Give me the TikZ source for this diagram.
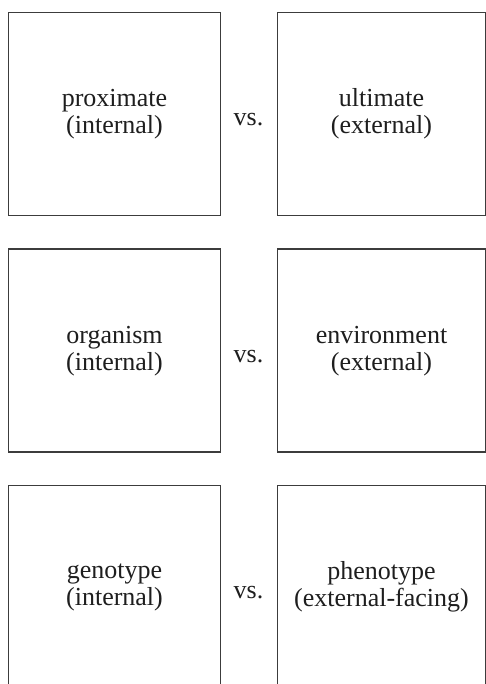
\documentclass[tikz,border=0pt]{standalone}
\usepackage{fontspec}
\setmainfont{Liberation Serif}
\definecolor{boxgray}{HTML}{3C3C3C}
\definecolor{ink}{HTML}{1E1E1E}
\begin{document}
\begin{tikzpicture}[x=1pt,y=-1pt,
  pair/.style={draw=boxgray, line width=1.5pt, minimum height=203pt,
    inner sep=0pt, align=center, text=ink,
    font=\fontsize{26}{27}\selectfont},
  leftbox/.style={pair, minimum width=212pt},
  rightbox/.style={pair, minimum width=208pt},
  versus/.style={inner sep=0pt, text=ink, font=\fontsize{26}{27}\selectfont}]
\useasboundingbox (0,0) rectangle (485,684);

% row 1
\node[leftbox]  (prox) at (114.5,113.9) {proximate\\(internal)};
\node[rightbox] (ult)  at (381.5,113.9) {ultimate\\(external)};
\node[versus]   (vs1)  at (248.5,120)   {vs.};

% row 2
\node[leftbox]  (org)  at (114.5,350.7) {organism\\(internal)};
\node[rightbox] (env)  at (381.5,350.7) {environment\\(external)};
\node[versus]   (vs2)  at (248.5,357)   {vs.};

% row 3
\node[leftbox]  (geno) at (114.5,587)   {genotype\\(internal)};
\node[rightbox] (phen) at (381.5,587)   {phenotype\\(external-facing)};
\node[versus]   (vs3)  at (248.5,593)   {vs.};
\end{tikzpicture}
\end{document}
